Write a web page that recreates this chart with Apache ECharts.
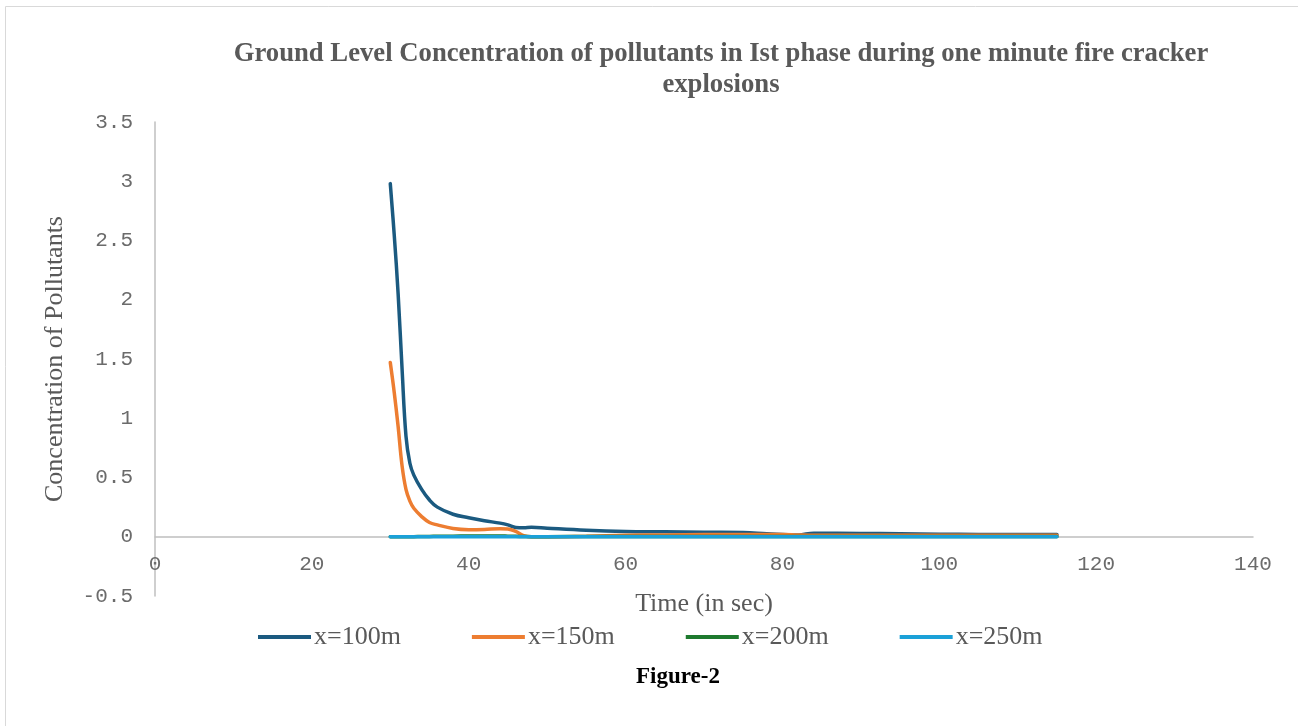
<!DOCTYPE html>
<html>
<head>
<meta charset="utf-8">
<script src="https://cdn.jsdelivr.net/npm/echarts@6/dist/echarts.min.js"></script>
<style>
  html, body { margin: 0; padding: 0; background: #fff; }
  #main { width: 1298px; height: 726px; }
</style>
</head>
<body>
<div id="main"></div>
<script>
var timeSec = [30, 30.5, 31, 31.5, 32, 32.5, 33, 34, 35, 36, 38, 40, 42, 44, 45, 46, 47, 48, 50, 55, 60, 65, 70, 75, 78, 80, 82, 84, 90, 95, 100, 105, 110, 115]
var c100 = [2.98, 2.55, 2.05, 1.42, 0.85, 0.62, 0.52, 0.40, 0.31, 0.25, 0.19, 0.16, 0.135, 0.115, 0.10, 0.078, 0.075, 0.08, 0.072, 0.055, 0.045, 0.042, 0.038, 0.036, 0.025, 0.02, 0.015, 0.03, 0.028, 0.025, 0.022, 0.02, 0.02, 0.02]
var c150 = [1.47, 1.22, 0.93, 0.6, 0.40, 0.30, 0.24, 0.17, 0.12, 0.10, 0.07, 0.06, 0.062, 0.068, 0.065, 0.045, 0.01, 0, 0, 0.005, 0.012, 0.015, 0.018, 0.02, 0.018, 0.02, 0.015, 0.012, 0.012, 0.012, 0.012, 0.012, 0.012, 0.012]
var c200 = [0, 0, 0, 0, 0, 0, 0.001, 0.002, 0.003, 0.004, 0.005, 0.006, 0.006, 0.006, 0.005, 0.004, 0.002, 0, 0.001, 0.002, 0.002, 0.002, 0.002, 0.002, 0.002, 0.002, 0.002, 0.002, 0.002, 0.002, 0.002, 0.002, 0.002, 0.002]
var c250 = [0, 0, 0, 0, 0, 0, 0, 0, 0, 0, 0.001, 0.001, 0.001, 0.001, 0.001, 0.001, 0, 0, 0, 0, 0, 0, 0, 0, 0, 0, 0, 0, 0, 0, 0, 0, 0, 0]
var seriesNames = ['x=100m', 'x=150m', 'x=200m', 'x=250m']
var seriesColors = ['#1b5a80', '#ed7d31', '#1e7a2e', '#1ba1d8']
var xTicks = { min: 0, max: 140, interval: 20 }
var yTicks = { min: -0.5, max: 3.5, interval: 0.5 }

var chart = echarts.init(document.getElementById('main'))

function pairs(ys) {
  return timeSec.map(function (t, i) { return [t, ys[i]] })
}

var serif = '"Liberation Serif", "Times New Roman", serif'
var mono = '"Liberation Mono", "Courier New", monospace'

// the x axis sits on y=0, which is one interval (0.5) above the grid bottom
var plotHeight = 726 - 122 - 130
var zeroOffset = plotHeight * (0 - yTicks.min) / (yTicks.max - yTicks.min)

var option = {
  animation: false,
  color: seriesColors,
  title: {
    text: 'Ground Level Concentration of pollutants in Ist phase during one minute fire cracker\nexplosions',
    left: 716,
    top: 34,
    textAlign: 'center',
    textStyle: {
      fontFamily: serif,
      fontWeight: 'bold',
      fontSize: 26.7,
      lineHeight: 31,
      color: '#595959'
    }
  },
  graphic: [
    {
      type: 'rect',
      shape: { x: 5.5, y: 6.5, width: 1300, height: 730 },
      style: { fill: 'none', stroke: '#d9d9d9', lineWidth: 1 }
    },
    {
      type: 'text',
      left: 636,
      top: 666,
      style: {
        text: 'Figure-2',
        font: 'bold 23px ' + serif,
        fill: '#000'
      }
    }
  ],
  legend: {
    data: seriesNames,
    left: 253,
    top: 619,
    icon: 'rect',
    itemWidth: 53,
    itemHeight: 4,
    itemGap: 71,
    textStyle: {
      fontFamily: serif,
      fontSize: 26,
      color: '#595959',
      padding: [0, 0, 0, -2]
    }
  },
  grid: {
    left: 155,
    top: 122,
    right: 45,
    bottom: 130
  },
  xAxis: {
    type: 'value',
    min: xTicks.min,
    max: xTicks.max,
    interval: xTicks.interval,
    offset: -zeroOffset,
    name: 'Time (in sec)',
    nameLocation: 'middle',
    nameGap: 54,
    nameTextStyle: {
      fontFamily: serif,
      fontSize: 26,
      color: '#595959'
    },
    axisTick: { show: false },
    axisLine: {
      onZero: false,
      lineStyle: { color: '#bfbfbf', width: 1.5 }
    },
    splitLine: { show: false },
    axisLabel: {
      margin: 17,
      fontFamily: mono,
      fontSize: 21,
      color: '#6b6b6b'
    }
  },
  yAxis: {
    type: 'value',
    min: yTicks.min,
    max: yTicks.max,
    interval: yTicks.interval,
    name: 'Concentration of Pollutants',
    nameLocation: 'middle',
    nameGap: 87,
    nameTextStyle: {
      fontFamily: serif,
      fontSize: 26,
      color: '#595959'
    },
    axisTick: { show: false },
    axisLine: {
      show: true,
      lineStyle: { color: '#bfbfbf', width: 1.5 }
    },
    splitLine: { show: false },
    axisLabel: {
      margin: 22,
      fontFamily: mono,
      fontSize: 21,
      color: '#6b6b6b'
    }
  },
  series: []
}

var allData = [c100, c150, c200, c250]
allData.forEach(function (ys, i) {
  option.series.push({
    name: seriesNames[i],
    type: 'line',
    smooth: 0.4,
    showSymbol: false,
    symbol: 'none',
    lineStyle: { width: 3.5, color: seriesColors[i], cap: 'round' },
    itemStyle: { color: seriesColors[i] },
    data: pairs(ys)
  })
})

chart.setOption(option)
</script>
</body>
</html>
